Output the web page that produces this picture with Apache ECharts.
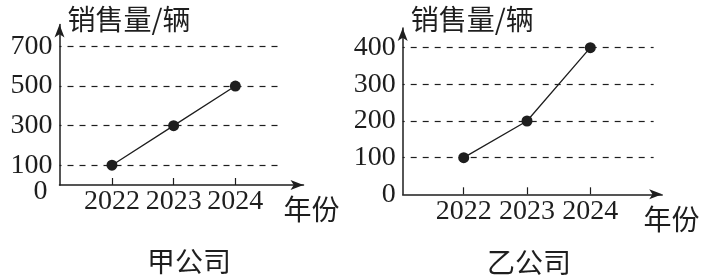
<!DOCTYPE html>
<html>
<head>
<meta charset="utf-8">
<script src="https://cdn.jsdelivr.net/npm/echarts@6/dist/echarts.min.js"></script>
<style>
  html, body { margin: 0; padding: 0; background: #fff; }
  #chart { width: 704px; height: 278px; }
</style>
</head>
<body>
<div id="chart"></div>
<script>
// Sales per year for the two companies
const years = [2022, 2023, 2024];
const salesJia = [100, 300, 500];
const salesYi = [100, 200, 400];

// Value-axis labels and dashed guide levels
const jiaTickLabels = [0, 100, 300, 500, 700];
const jiaGuides = [100, 300, 500, 700];
const yiTickLabels = [0, 100, 200, 300, 400];
const yiGuides = [100, 200, 300, 400];

const yAxisTitle = '销售量/辆';
const xAxisTitle = '年份';
const panelTitles = ['甲公司', '乙公司'];

const INK = '#1e1e1e';
const NUM_FONT = '"Liberation Serif", "Times New Roman", serif';
const CJK_FONT = '"Noto Sans CJK SC", sans-serif';
const ARROW_W = 7.5, ARROW_H = 13;

// Panel layout in pixels; axis ranges are derived so both panels keep their own scale
const panels = [
  { ax: 59.5, ay: 185, xStart: 2021.15, pxPerYear: 61.7, pxPerUnit: 0.1979,
    xTip: 310, yTip: 18, guideEnd: 2024.77, titleX: 184, titleY: 242,
    yNameGap: 5, xNameGap: 8, xNamePad: 10,
    data: salesJia, ticks: jiaTickLabels, guides: jiaGuides, zeroLow: true },
  { ax: 402.7, ay: 194.3, xStart: 2021.036, pxPerYear: 63.3, pxPerUnit: 0.3665,
    xTip: 668.7, yTip: 21.5, guideEnd: 2025.0, titleX: 524, titleY: 243,
    yNameGap: 8.5, xNameGap: 9.3, xNamePad: 11,
    data: salesYi, ticks: yiTickLabels, guides: yiGuides, zeroLow: false }
];

const grid = [], xAxis = [], yAxis = [], series = [], title = [];
const extraYAxes = [];

panels.forEach((p, i) => {
  const top = p.yTip + ARROW_H / 2;
  const width = p.xTip - ARROW_H / 2 - p.ax;
  const height = p.ay - top;
  const yMax = height / p.pxPerUnit;
  grid.push({ left: p.ax, top: top, width: width, height: height });

  xAxis.push({
    gridIndex: i,
    type: 'value',
    min: p.xStart,
    max: p.xStart + width / p.pxPerYear,
    name: xAxisTitle,
    nameLocation: 'end',
    nameGap: p.xNameGap,
    nameTextStyle: {
      fontFamily: CJK_FONT, fontSize: 28, color: INK,
      align: 'center', verticalAlign: 'top', padding: [p.xNamePad, 0, 0, 0]
    },
    axisLine: {
      show: true, onZero: false,
      symbol: ['none', 'arrow'], symbolSize: [ARROW_W, ARROW_H],
      lineStyle: { color: INK, width: 1.5 }
    },
    axisTick: {
      show: true, inside: true, length: 7, customValues: years,
      lineStyle: { color: INK, width: 1.2 }
    },
    axisLabel: {
      customValues: years,
      formatter: v => String(v),
      fontFamily: NUM_FONT, fontSize: 28, color: INK, margin: 3
    },
    splitLine: { show: false }
  });

  // In the tightly spaced panel the origin label sits a little lower and is
  // drawn by a companion axis so it does not crowd out the 100 label.
  const mainTicks = p.zeroLow ? p.ticks.filter(v => v !== 0) : p.ticks;

  yAxis.push({
    gridIndex: i,
    type: 'value',
    min: 0,
    max: yMax,
    name: yAxisTitle,
    nameLocation: 'end',
    nameGap: p.yNameGap,
    nameTextStyle: {
      fontFamily: CJK_FONT, fontSize: 28, color: INK,
      align: 'left', verticalAlign: 'middle', padding: [0, 0, 0, 8]
    },
    axisLine: {
      show: true, onZero: false,
      symbol: ['none', 'arrow'], symbolSize: [ARROW_W, ARROW_H],
      lineStyle: { color: INK, width: 1.5 }
    },
    axisTick: { show: false },
    axisLabel: {
      customValues: mainTicks,
      showMinLabel: true,
      fontFamily: NUM_FONT, fontSize: 28, color: INK, margin: 7
    },
    splitLine: { show: false }
  });

  if (p.zeroLow) {
    extraYAxes.push({
      gridIndex: i,
      type: 'value',
      position: 'left',
      min: 0,
      max: yMax,
      axisLine: { show: false },
      axisTick: { show: false },
      splitLine: { show: false },
      axisLabel: {
        customValues: p.ticks.filter(v => v === 0),
        showMinLabel: true,
        formatter: v => '{z|' + v + '}',
        rich: { z: { fontFamily: NUM_FONT, fontSize: 28, color: INK, padding: [14, 5, 0, 0] } },
        margin: 7
      }
    });
  }

  series.push({
    type: 'line',
    xAxisIndex: i,
    yAxisIndex: i,
    data: years.map((y, k) => [y, p.data[k]]),
    symbol: 'circle',
    symbolSize: 11,
    itemStyle: { color: INK },
    lineStyle: { color: INK, width: 1.3 },
    z: 5,
    markLine: {
      silent: true,
      symbol: ['none', 'none'],
      label: { show: false },
      lineStyle: { color: INK, width: 1.2, type: [6, 6], dashOffset: -8 },
      data: p.guides.map(v => [{ coord: [p.xStart, v] }, { coord: [p.guideEnd, v] }]),
      z: 1
    }
  });

  title.push({
    text: panelTitles[i],
    left: p.titleX,
    top: p.titleY,
    textAlign: 'center',
    textStyle: { fontFamily: CJK_FONT, fontSize: 28, fontWeight: 'normal', color: INK }
  });
});

extraYAxes.forEach(a => yAxis.push(a));

const chart = echarts.init(document.getElementById('chart'), null, { renderer: 'canvas' });
chart.setOption({
  backgroundColor: '#fff',
  animation: false,
  title, grid, xAxis, yAxis, series
});
</script>
</body>
</html>
